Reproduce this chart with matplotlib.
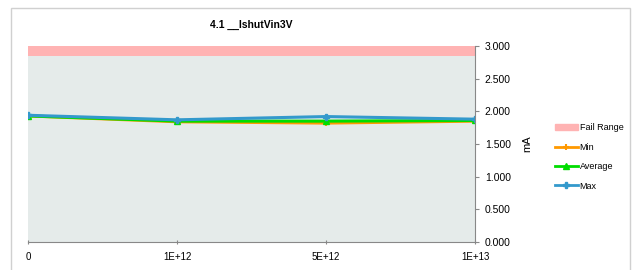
import numpy as np
import matplotlib.pyplot as plt
from matplotlib.patches import Rectangle, Patch
from matplotlib.lines import Line2D

plt.rcParams['font.family'] = ['Liberation Sans', 'DejaVu Sans']

# Data
categories = ['0', '1E+12', '5E+12', '1E+13']
min_vals = [1.93, 1.84, 1.82, 1.85]
avg_vals = [1.93, 1.85, 1.85, 1.86]
max_vals = [1.94, 1.87, 1.92, 1.88]
fail_low = 2.85      # fail range lower bound (mA)
fail_high = 3.0      # fail range upper bound (mA)

x = np.arange(len(categories))

fig = plt.figure(figsize=(6.34, 2.70), dpi=100)
fig.patches.append(Rectangle((11/634, -0.05), 619/634, 1.05 - 8/270,
                             transform=fig.transFigure, fill=False,
                             edgecolor='#d0d0d0', lw=1.0))

ax = fig.add_axes([28/634, 28/270, 447/634, 196/270])

# pass / fail areas
ax.fill_between(x, 0, fail_low, color='#e5ebea', lw=0)
ax.fill_between(x, fail_low, fail_high, color='#ffb3b3', lw=0)

ax.plot(x, min_vals, color='#ff9900', lw=2.2, marker='+', ms=5, mew=1.5)
ax.plot(x, avg_vals, color='#00dd00', lw=2.2, marker='^', ms=4)
ax.plot(x, max_vals, color='#3399cc', lw=2.2, marker='P', ms=4)

ax.set_xlim(0, 3)
ax.set_ylim(0, 3)
ax.set_xticks(x)
ax.set_xticklabels(categories, fontsize=7)
ax.set_yticks(np.arange(0, 3.01, 0.5))
ax.set_yticklabels(['%.3f' % v for v in np.arange(0, 3.01, 0.5)], fontsize=7.5)
ax.yaxis.tick_right()
ax.yaxis.set_label_position('right')
ax.set_ylabel('mA', fontsize=8, labelpad=8)
ax.tick_params(axis='y', length=3, color='#888888', pad=4)
ax.tick_params(axis='x', length=3, color='#888888', pad=6, direction='inout')
for s in ['top', 'left']:
    ax.spines[s].set_visible(False)
ax.spines['bottom'].set_color('#888888')
ax.spines['right'].set_color('#888888')
ax.set_title('4.1 __IshutVin3V', fontsize=7.5, fontweight='bold', pad=13)

handles = [Patch(color='#ffb3b3'),
           Line2D([], [], color='#ff9900', lw=2, marker='+', ms=5, mew=1.5),
           Line2D([], [], color='#00dd00', lw=2, marker='^', ms=4),
           Line2D([], [], color='#3399cc', lw=2, marker='P', ms=4)]
fig.legend(handles, ['Fail Range', 'Min', 'Average', 'Max'],
           loc='center left', bbox_to_anchor=(547/634, 1 - 157/270),
           frameon=False, fontsize=6.5, labelspacing=1.15,
           handlelength=2.5, handletextpad=0.2)

plt.savefig('out.png', dpi=100)
